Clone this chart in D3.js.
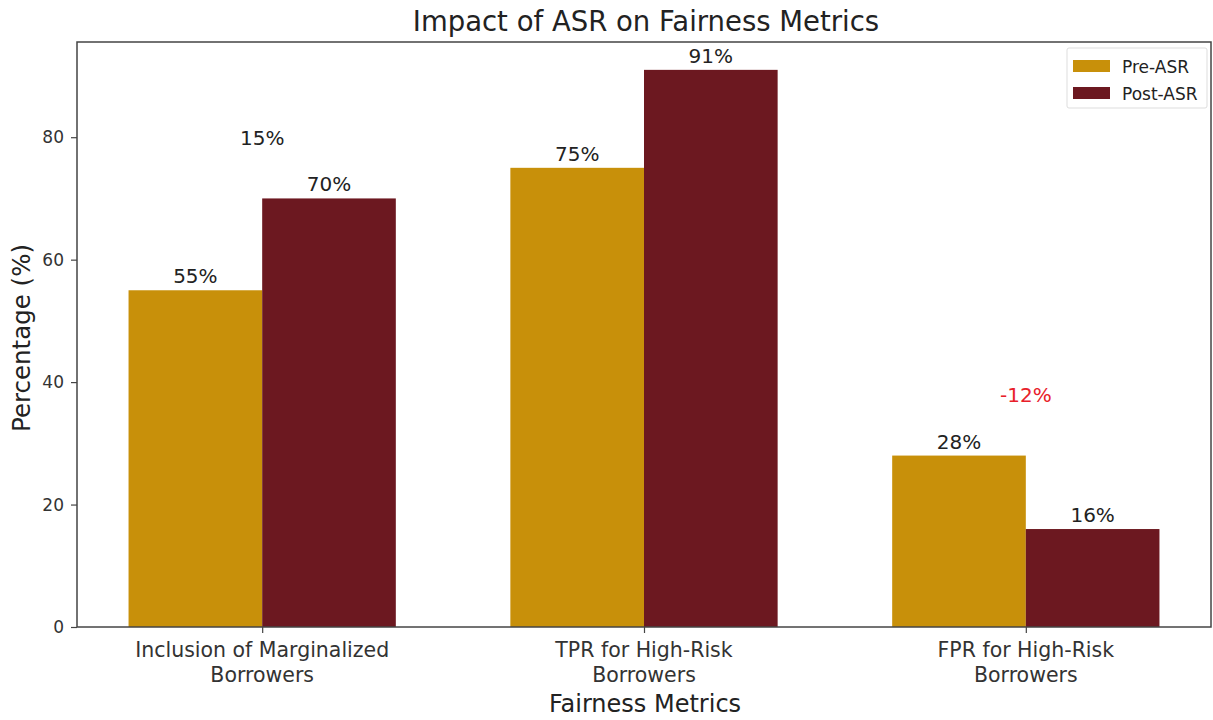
<!DOCTYPE html>
<html>
<head>
<meta charset="utf-8">
<script src="https://cdn.jsdelivr.net/npm/d3@7"></script>
<style>
  html, body { margin: 0; padding: 0; background: #fff; }
  svg { display: block; font-family: "DejaVu Sans", sans-serif; }
</style>
</head>
<body>
<svg id="chart" width="1213" height="720"></svg>
<script>
// Fairness metrics before and after ASR
const categories = [
  ["Inclusion of Marginalized", "Borrowers"],
  ["TPR for High-Risk", "Borrowers"],
  ["FPR for High-Risk", "Borrowers"]
];
const preASR = [55, 75, 28];
const postASR = [70, 91, 16];
const changeLabels = ["15%", null, "-12%"];
const yTicks = [0, 20, 40, 60, 80];
const seriesNames = ["Pre-ASR", "Post-ASR"];

(function () {
  const colors = { pre: "#c8900a", post: "#6c1820" };
  const barWidth = 0.35;

  const svg = d3.select("#chart");
  const plotLeft = 77, plotRight = 1211, plotTop = 42, plotBottom = 627;

  const x = d3.scaleLinear().domain([-0.485, 2.485]).range([plotLeft, plotRight]);
  const y = d3.scaleLinear().domain([0, 95.55]).range([plotBottom, plotTop]);

  // Bars
  const g = svg.append("g");
  categories.forEach((c, i) => {
    g.append("rect")
      .attr("x", x(i - barWidth)).attr("y", y(preASR[i]))
      .attr("width", x(i) - x(i - barWidth)).attr("height", y(0) - y(preASR[i]))
      .attr("fill", colors.pre);
    g.append("rect")
      .attr("x", x(i)).attr("y", y(postASR[i]))
      .attr("width", x(i + barWidth) - x(i)).attr("height", y(0) - y(postASR[i]))
      .attr("fill", colors.post);
  });

  // Value labels above each bar, plus the change between the two
  const labelFont = 20;
  categories.forEach((c, i) => {
    g.append("text").attr("x", x(i - barWidth / 2)).attr("y", y(preASR[i]) - 7)
      .attr("text-anchor", "middle").attr("font-size", labelFont).attr("fill", "#222")
      .text(preASR[i] + "%");
    g.append("text").attr("x", x(i + barWidth / 2)).attr("y", y(postASR[i]) - 7)
      .attr("text-anchor", "middle").attr("font-size", labelFont).attr("fill", "#222")
      .text(postASR[i] + "%");
    if (changeLabels[i]) {
      const neg = changeLabels[i].startsWith("-");
      g.append("text").attr("x", x(i)).attr("y", y(Math.max(preASR[i], postASR[i]) + 10) + 8)
        .attr("text-anchor", "middle").attr("font-size", labelFont)
        .attr("fill", neg ? "#e8202a" : "#222")
        .text(changeLabels[i]);
    }
  });

  // Axes
  const yAxis = d3.axisLeft(y).tickValues(yTicks).tickSize(6).tickPadding(7);
  const ya = svg.append("g").attr("transform", `translate(${plotLeft},0)`).call(yAxis);
  ya.select(".domain").remove();
  ya.selectAll("text").attr("font-size", 17).attr("fill", "#333").attr("font-family", "DejaVu Sans");
  ya.selectAll("line").attr("stroke", "#444").attr("stroke-width", 1.2);

  const xAxis = d3.axisBottom(x).tickValues([0, 1, 2]).tickSize(6).tickFormat("");
  const xa = svg.append("g").attr("transform", `translate(0,${plotBottom})`).call(xAxis);
  xa.select(".domain").remove();
  xa.selectAll("line").attr("stroke", "#444").attr("stroke-width", 1.2);

  categories.forEach((c, i) => {
    const t = svg.append("text").attr("x", x(i)).attr("y", 657)
      .attr("text-anchor", "middle").attr("font-size", 20.5).attr("fill", "#333");
    c.forEach((line, k) => t.append("tspan").attr("x", x(i)).attr("dy", k ? 24.5 : 0).text(line));
  });

  // Frame
  svg.append("rect").attr("x", plotLeft).attr("y", plotTop)
    .attr("width", plotRight - plotLeft).attr("height", plotBottom - plotTop)
    .attr("fill", "none").attr("stroke", "#444").attr("stroke-width", 1.5);

  // Titles
  svg.append("text").attr("x", 646).attr("y", 31)
    .attr("text-anchor", "middle").attr("font-size", 27.5).attr("fill", "#222")
    .text("Impact of ASR on Fairness Metrics");
  svg.append("text").attr("x", 645).attr("y", 712)
    .attr("text-anchor", "middle").attr("font-size", 24).attr("fill", "#222")
    .text("Fairness Metrics");
  svg.append("text").attr("transform", "translate(30,338) rotate(-90)")
    .attr("text-anchor", "middle").attr("font-size", 24.5).attr("fill", "#222")
    .text("Percentage (%)");

  // Legend
  const lg = svg.append("g").attr("transform", "translate(1067,48)");
  lg.append("rect").attr("width", 140).attr("height", 60).attr("rx", 2)
    .attr("fill", "#fff").attr("stroke", "#ddd");
  [colors.pre, colors.post].forEach((col, k) => {
    lg.append("rect").attr("x", 6).attr("y", 12 + k * 27).attr("width", 37).attr("height", 12).attr("fill", col);
    lg.append("text").attr("x", 55).attr("y", 25 + k * 27).attr("font-size", 17).attr("fill", "#222")
      .text(seriesNames[k]);
  });
})();
</script>
</body>
</html>
